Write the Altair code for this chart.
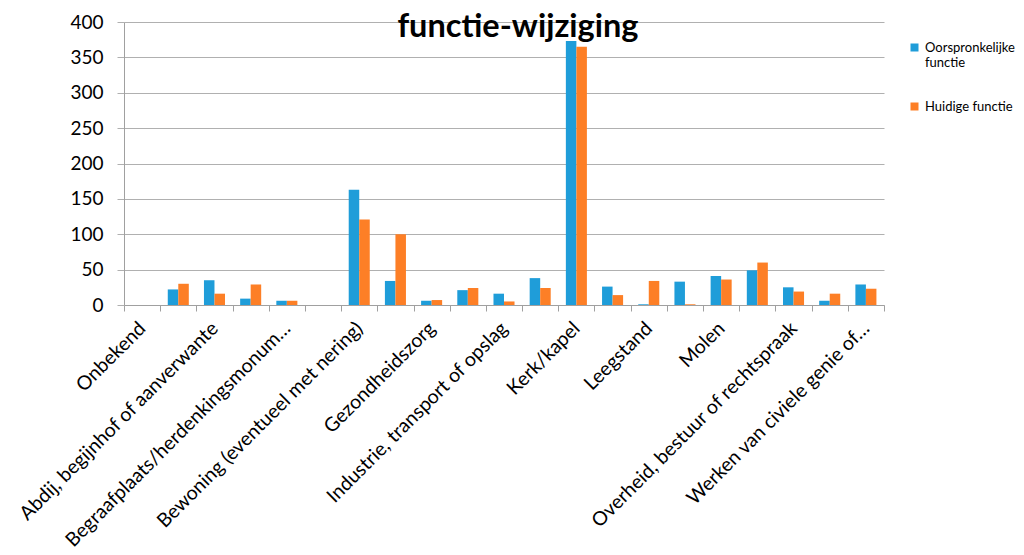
import altair as alt
import pandas as pd

categories = [
    "Onbekend",
    "Aanhorigheid",
    "Abdij, begijnhof of aanverwante",
    "Agrarisch",
    "Begraafplaats/herdenkingsmonum…",
    "Bescherming en verdediging",
    "Bewoning (eventueel met nering)",
    "Cultuur",
    "Gezondheidszorg",
    "Handel of horeca",
    "Industrie, transport of opslag",
    "Kasteel of landhuis",
    "Kerk/kapel",
    "Klooster",
    "Leegstand",
    "Militair",
    "Molen",
    "Onderwijs",
    "Overheid, bestuur of rechtspraak",
    "Recreatie of sport",
    "Werken van civiele genie of…",
]
shown_labels = categories[0::2]
series = ["Oorspronkelijke functie", "Huidige functie"]
oorspronkelijk = [0, 22, 35, 9, 6, 0, 163, 34, 6, 21, 16, 38, 373, 26, 1, 33, 41, 49, 25, 6, 29]
huidig = [0, 30, 16, 29, 6, 0, 121, 100, 7, 24, 5, 24, 365, 14, 34, 1, 36, 60, 19, 16, 23]
y_ticks = [0, 50, 100, 150, 200, 250, 300, 350, 400]
colors = ["#1f9dd9", "#fd7f26"]

rows = []
for c, o, h in zip(categories, oorspronkelijk, huidig):
    rows.append({"categorie": c, "reeks": series[0], "waarde": o})
    rows.append({"categorie": c, "reeks": series[1], "waarde": h})
df = pd.DataFrame(rows)

shown_js = "[" + ",".join("'" + s.replace("'", "\\'") + "'" for s in shown_labels) + "]"

chart = alt.Chart(df).mark_bar().encode(
    x=alt.X(
        "categorie:N",
        sort=categories,
        scale=alt.Scale(paddingInner=0, paddingOuter=0),
        axis=alt.Axis(
            title=None,
            labelAngle=-45,
            labelAlign="right",
            labelBaseline="middle",
            labelFont="Lato",
            labelFontSize=19.5,
            labelColor="black",
            labelExpr=f"indexof({shown_js}, datum.value) >= 0 ? datum.label : ''",
            labelLimit=500,
            labelPadding=14,
            labelOverlap=False,
            tickBand="extent",
            ticks=True,
            tickSize=6,
            tickColor="#a0a0a0",
            domainColor="#a0a0a0",
            grid=False,
        ),
    ),
    xOffset=alt.XOffset(
        "reeks:N", sort=series, scale=alt.Scale(paddingOuter=0.72, paddingInner=0)
    ),
    y=alt.Y(
        "waarde:Q",
        scale=alt.Scale(domain=[0, 400], nice=False),
        axis=alt.Axis(
            title=None,
            values=y_ticks,
            labelFont="Lato",
            labelFontSize=19,
            labelColor="black",
            labelPadding=14,
            tickSize=7,
            tickColor="#b0b0b0",
            domainColor="#a0a0a0",
            gridColor="#b0b0b0",
        ),
    ),
    color=alt.Color(
        "reeks:N",
        sort=series,
        scale=alt.Scale(domain=series, range=colors),
        legend=alt.Legend(
            title=None,
            orient="none",
            legendX=784,
            legendY=19,
            symbolType="square",
            symbolSize=64,
            symbolStrokeWidth=0,
            labelFont="Lato",
            labelFontSize=13,
            labelColor="black",
            labelExpr="datum.label == 'Oorspronkelijke functie' ? ['Oorspronkelijke', 'functie'] : datum.label",
            rowPadding=30,
            labelOffset=4,
        ),
    ),
).properties(
    width=760,
    height=283,
    padding={"left": 116, "top": 14, "right": 132, "bottom": 242},
    autosize=alt.AutoSizeParams(type="none"),
    title=alt.TitleParams(
        "functie-wijziging",
        font="Lato",
        fontSize=32.5,
        fontWeight="bold",
        color="black",
        anchor="middle",
        frame="group",
        dx=14,
        dy=40,
        offset=-16,
        baseline="alphabetic",
    ),
).configure_view(stroke=None)

chart.save("out.html", embed_options={"renderer": "svg", "actions": False})
